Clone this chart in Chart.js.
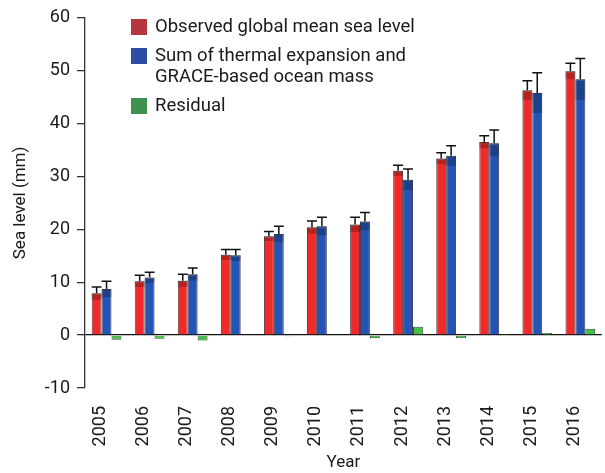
<!DOCTYPE html>
<html lang="en">
<head>
<meta charset="utf-8"/>
<title>Sea level budget</title>
<script src="https://cdn.jsdelivr.net/npm/chart.js"></script>
<style>
    html, body { margin: 0; padding: 0; background: #fff; overflow: hidden; }
    .wrap { position: relative; width: 605px; height: 473px; overflow: hidden; }
    canvas { position: absolute; left: 0; top: 0; }
    .legend { position: absolute; left: 131px; top: 16px; font-family: Roboto, sans-serif; font-size: 18.5px; color: #1a1a1a; }
    .legend .item { display: flex; align-items: flex-start; margin-bottom: 8px; line-height: 21px; white-space: pre-line; }
    .legend .box { width: 16px; height: 16px; margin-top: 3px; margin-right: 8px; flex: none; }
  </style>
</head>
<body>
<div class="wrap">
<canvas id="seaChart" width="612" height="473"></canvas>
<div class="legend" id="legend"></div>
</div>
<script>
    const years = ['2005', '2006', '2007', '2008', '2009', '2010', '2011', '2012', '2013', '2014', '2015', '2016'];
    const observed = [7.9, 10.2, 10.3, 15.2, 18.7, 20.4, 20.9, 31.1, 33.4, 36.5, 46.3, 49.9];
    const observedErr = [1.2, 1.1, 1.2, 1.0, 0.9, 1.2, 1.4, 1.0, 1.1, 1.2, 1.8, 1.5];
    const thermalMass = [8.7, 10.9, 11.5, 15.1, 19.1, 20.6, 21.5, 29.4, 33.9, 36.3, 45.8, 48.4];
    const thermalMassErr = [1.5, 1.0, 1.2, 1.1, 1.5, 1.7, 1.7, 2.0, 1.9, 2.5, 3.8, 3.9];
    const residual = [-0.9, -0.7, -1.0, 0.1, -0.2, -0.1, -0.6, 1.6, -0.6, 0.2, 0.4, 1.2];
    const yTicks = [-10, 0, 10, 20, 30, 40, 50, 60];

    const seriesLabels = ['Observed global mean sea level', 'Sum of thermal expansion and\nGRACE-based ocean mass', 'Residual'];
    const barColors = ['#ee2a2a', '#2454b4', '#45bf45'];
    const legendColors = ['#b5363f', '#2b4ea2', '#3f9150'];

    // legend drawn as html, sits inside the plot like the original
    const legend = document.getElementById('legend');
    seriesLabels.forEach((lab, i) => {
      const item = document.createElement('div');
      item.className = 'item';
      item.innerHTML = `<span class="box" style="background:${legendColors[i]}"></span><span>${lab.replace('\n', '<br>')}</span>`;
      legend.appendChild(item);
    });

    const errorBars = {
      id: 'errorBars',
      afterDatasetsDraw(chart) {
        const ctx = chart.ctx;
        const y = chart.scales.y;
        [[0, observedErr], [1, thermalMassErr]].forEach(([di, errs]) => {
          const meta = chart.getDatasetMeta(di);
          meta.data.forEach((bar, i) => {
            const v = chart.data.datasets[di].data[i];
            const e = errs[i];
            const yV = y.getPixelForValue(v);
            const yHi = y.getPixelForValue(v + e);
            const yLo = y.getPixelForValue(v - e);
            const w = bar.width;
            ctx.save();
            ctx.fillStyle = 'rgba(0,0,0,0.22)';
            ctx.fillRect(bar.x - w / 2, yV, w, yLo - yV);
            ctx.strokeStyle = '#111';
            ctx.lineWidth = 1.5;
            ctx.beginPath();
            ctx.moveTo(bar.x, yV);
            ctx.lineTo(bar.x, yHi);
            ctx.moveTo(bar.x - w / 2, yHi);
            ctx.lineTo(bar.x + w / 2, yHi);
            ctx.stroke();
            ctx.restore();
          });
        });
      }
    };

    const font = { family: 'Roboto, sans-serif', size: 18 };

    new Chart(document.getElementById('seaChart'), {
      type: 'bar',
      data: {
        labels: years,
        datasets: [
          { label: seriesLabels[0], data: observed, backgroundColor: barColors[0], borderColor: 'rgba(40,0,0,0.75)', borderWidth: 1 },
          { label: seriesLabels[1], data: thermalMass, backgroundColor: barColors[1], borderColor: 'rgba(0,0,40,0.75)', borderWidth: 1 },
          { label: seriesLabels[2], data: residual, backgroundColor: barColors[2], borderColor: 'rgba(0,40,0,0.8)', borderWidth: 1 }
        ]
      },
      options: {
        responsive: false,
        animation: false,
        layout: { padding: { top: 17, right: 2, bottom: 0, left: 0 } },
        plugins: { legend: { display: false }, tooltip: { enabled: false } },
        datasets: { bar: { barPercentage: 1, categoryPercentage: 0.69 } },
        scales: {
          x: {
            grid: { display: false },
            border: { display: false },
            ticks: { autoSkip: false, minRotation: 90, maxRotation: 90, padding: 10, labelOffset: -6, color: '#1a1a1a', font: font },
            title: { display: true, text: 'Year', color: '#1a1a1a', font: { family: 'Roboto, sans-serif', size: 17 }, padding: { top: 1, bottom: 0 } },
            afterFit(scale) { scale.height = 85; }
          },
          y: {
            min: -10,
            max: 60,
            afterBuildTicks(scale) { scale.ticks = yTicks.map(v => ({ value: v })); },
            grid: {
              color: c => (c.tick && c.tick.value === 0 ? '#111' : 'transparent'),
              tickColor: '#333',
              tickLength: 8,
              lineWidth: 1.3
            },
            border: { display: true, color: '#333', width: 1.3 },
            ticks: { padding: 7, color: '#1a1a1a', font: font },
            title: { display: true, text: 'Sea level (mm)', color: '#1a1a1a', font: { family: 'Roboto, sans-serif', size: 17 }, padding: { top: 11, bottom: 0 } },
            afterFit(scale) { scale.width = 85; }
          }
        }
      },
      plugins: [errorBars]
    });
  </script>
</body>
</html>
